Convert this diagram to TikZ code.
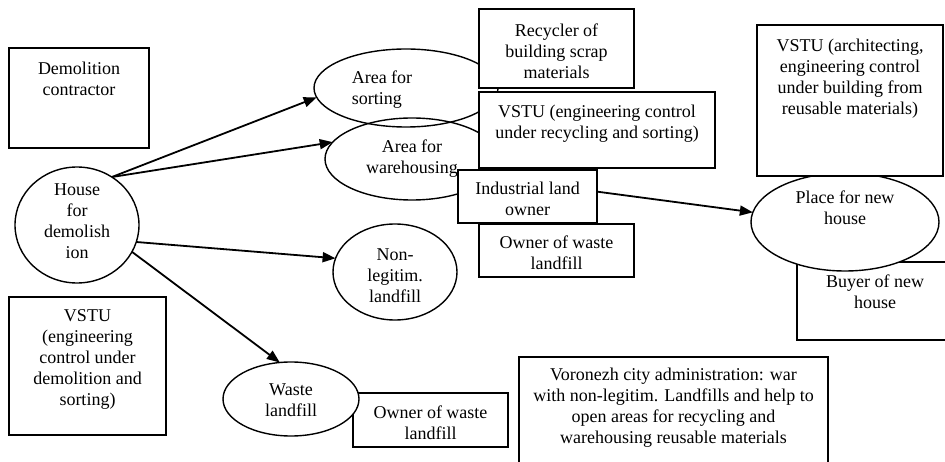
\documentclass[tikz,border=0pt]{standalone}
\usepackage{fontspec}
\setmainfont{Liberation Serif}
\usetikzlibrary{arrows.meta,shapes.geometric}
\tikzset{
  every node/.style={font=\fontsize{18}{21}\selectfont},
  box/.style={draw, line width=1.8pt, fill=white, rectangle, inner sep=0pt, outer sep=0pt, anchor=north west},
  oval/.style={draw, line width=1.4pt, ellipse, inner sep=0pt, outer sep=0pt},
  toplab/.style={anchor=north, inner sep=0pt, align=center},
  midlab/.style={anchor=center, inner sep=0pt, align=center},
  conn/.style={line width=1.8pt, -{Triangle[length=13pt,width=10pt]}},
}
\begin{document}
\begin{tikzpicture}[x=1pt,y=-1pt]
\useasboundingbox (0,0) rectangle (945,462);
\fill[white] (0,0) rectangle (945,462);
\clip (0,0) rectangle (945,462);

% left side
\node[box, minimum width=140pt, minimum height=100pt,
  label={[toplab,yshift=-14pt]north:Demolition\\contractor}] (dem) at (9,48) {};
\node[box, minimum width=157pt, minimum height=138pt,
  label={[toplab,yshift=-12pt]north:VSTU\\(engineering\\control under\\demolition and\\sorting)}] (vstuL) at (9,297) {};
\node[oval, minimum width=124pt, minimum height=116pt,
  label={[midlab,yshift=3.5pt]center:House\\for\\demolish\\ion}] (house) at (77,225) {};

% middle ellipses
\node[oval, minimum width=184pt, minimum height=78pt,
  label={[midlab,align=left,xshift=-24pt,yshift=-1.5pt]center:Area for\\sorting}] (sort) at (406,88) {};
\node[oval, minimum width=174pt, minimum height=82pt,
  label={[midlab]center:Area for\\warehousing}] (ware) at (412,159) {};
\node[oval, minimum width=124pt, minimum height=96pt,
  label={[midlab,yshift=-4pt]center:Non-\\legitim.\\landfill}] (nonleg) at (395,272) {};

% middle boxes
\node[box, minimum width=155pt, minimum height=79pt,
  label={[toplab,yshift=-14.5pt]north:Recycler of\\building scrap\\materials}] (recyc) at (479,9) {};
\node[box, minimum width=236pt, minimum height=76pt,
  label={[toplab,yshift=-12.5pt]north:VSTU (engineering control\\under recycling and sorting)}] (vstuM) at (479,92) {};
\node[box, minimum width=155pt, minimum height=53pt,
  label={[midlab,yshift=-2pt]center:Owner of waste\\landfill}] (ownM) at (479,224) {};
\node[box, minimum width=139pt, minimum height=53pt,
  label={[midlab,yshift=-2pt]center:Industrial land\\owner}] (ind) at (458,170) {};

% right side
\node[box, minimum width=156pt, minimum height=78pt,
  label={[toplab,yshift=-13pt]north:Buyer of new\\house}] (buyer) at (797,262) {};
\node[oval, fill=white, minimum width=188pt, minimum height=98pt,
  label={[midlab,yshift=14.5pt]center:Place for new\\house}] (place) at (845,222) {};
\node[box, minimum width=186pt, minimum height=151pt,
  label={[toplab,yshift=-14pt]north:VSTU (architecting,\\engineering control\\under building from\\reusable materials)}] (vstuR) at (757,25) {};

% bottom
\node[box, minimum width=155pt, minimum height=54pt,
  label={[midlab,yshift=-2.4pt]center:Owner of waste\\landfill}] (ownB) at (353,393) {};
\node[oval, fill=white, minimum width=136pt, minimum height=74pt,
  label={[midlab,yshift=-1.5pt]center:Waste\\landfill}] (waste) at (291,399) {};
\node[box, minimum width=309pt, minimum height=120pt,
  label={[toplab,yshift=-11pt]north:Voronezh city administration: war\\with non-legitim. Landfills and help to\\open areas for recycling and\\warehousing reusable materials}] (voron) at (519,357) {};

% connectors
\draw[conn] (house.54) -- (sort.186);
\draw[conn] (house.54) -- (ware.168);
\draw[conn] (house.-16) -- (nonleg.167);
\draw[conn] (house.-26) -- (waste.107);
\draw[conn] (ind.4) -- (place.174);
\end{tikzpicture}
\end{document}
